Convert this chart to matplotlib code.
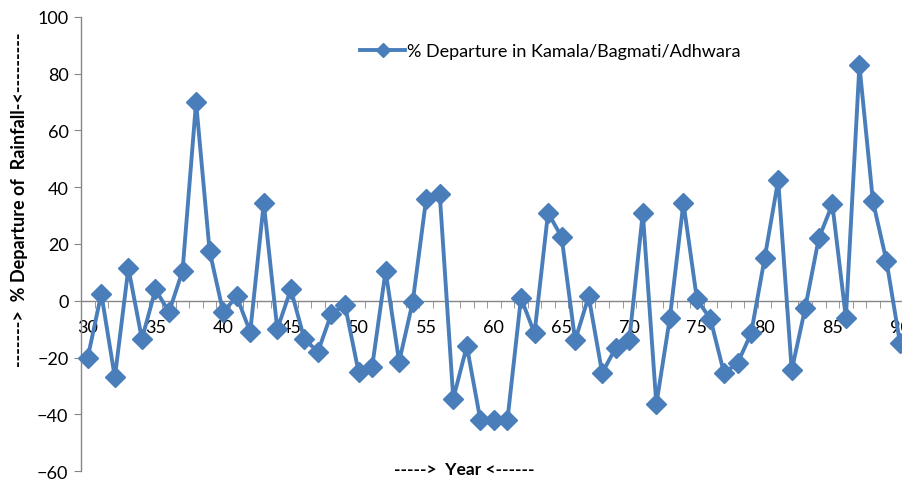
import matplotlib
matplotlib.use('Agg')
import matplotlib.pyplot as plt
from matplotlib.ticker import MultipleLocator, FixedLocator

plt.rcParams['font.family'] = ['Lato', 'DejaVu Sans']

# % departure of rainfall, years 1930-1990 (two digit year)
years = list(range(30, 91))
departure = [-20, 2.5, -27, 11.5, -13.5, 4, -4, 10.5, 70, 17.5,
             -4, 1.5, -11, 34.5, -10, 4, -13.5, -18, -4.5, -1.5,
             -25, -23.5, 10.5, -21.5, -0.5, 36, 37.5, -34.5, -16, -42,
             -42, -42, 1, -11.5, 31, 22.5, -14, 1.5, -25.5, -16.5,
             -14, 31, -36.5, -6, 34.5, 0.5, -6.5, -25.5, -22, -11.5,
             15, 42.5, -24.5, -2.5, 22, 34, -6, 83, 35, 14,
             -15]
year_labels = list(range(30, 91, 5))

blue = '#4a7ebb'
axis_grey = '#868686'

fig = plt.figure(figsize=(9.03, 4.81), dpi=100)
ax = fig.add_axes([0.0897, 0.0187, 0.9103, 0.9439])

ax.plot(years, departure, color=blue, lw=2.8, marker='D', markersize=10,
        label='% Departure in Kamala/Bagmati/Adhwara', clip_on=False, zorder=3)

ax.set_xlim(29.5, 90.22)
ax.set_ylim(-60, 100)
ax.yaxis.set_major_locator(MultipleLocator(20))

# category axis crosses at zero, labels every 5 years, ticks between years
ax.spines['top'].set_visible(False)
ax.spines['right'].set_visible(False)
ax.spines['bottom'].set_position(('data', 0))
for s in ('left', 'bottom'):
    ax.spines[s].set_color(axis_grey)
    ax.spines[s].set_linewidth(1)

ax.xaxis.set_major_locator(FixedLocator(year_labels))
ax.xaxis.set_minor_locator(FixedLocator([y + 0.5 for y in range(29, 91)]))
ax.tick_params(axis='x', which='major', length=0, pad=13, labelsize=13, colors='black')
ax.tick_params(axis='x', which='minor', length=5, color=axis_grey, direction='out')
ax.tick_params(axis='y', length=5, color=axis_grey, labelsize=13, pad=4)
for lab in ax.get_xticklabels():
    lab.set_zorder(1)

ax.set_ylabel('------->  % Departure of  Rainfall-<---------', fontsize=13, fontweight='bold')
ax.yaxis.set_label_coords(-0.064, 0.6)
ax.set_xlabel('----->  Year <------', fontsize=12.5, fontweight='bold')
ax.xaxis.set_label_coords(0.466, 0.022)

ax.legend(loc='center', bbox_to_anchor=(0.571, 0.925), frameon=False,
          fontsize=13, handlelength=2.5, handletextpad=0.1, markerscale=0.7)

fig.savefig('out.png', dpi=100)
